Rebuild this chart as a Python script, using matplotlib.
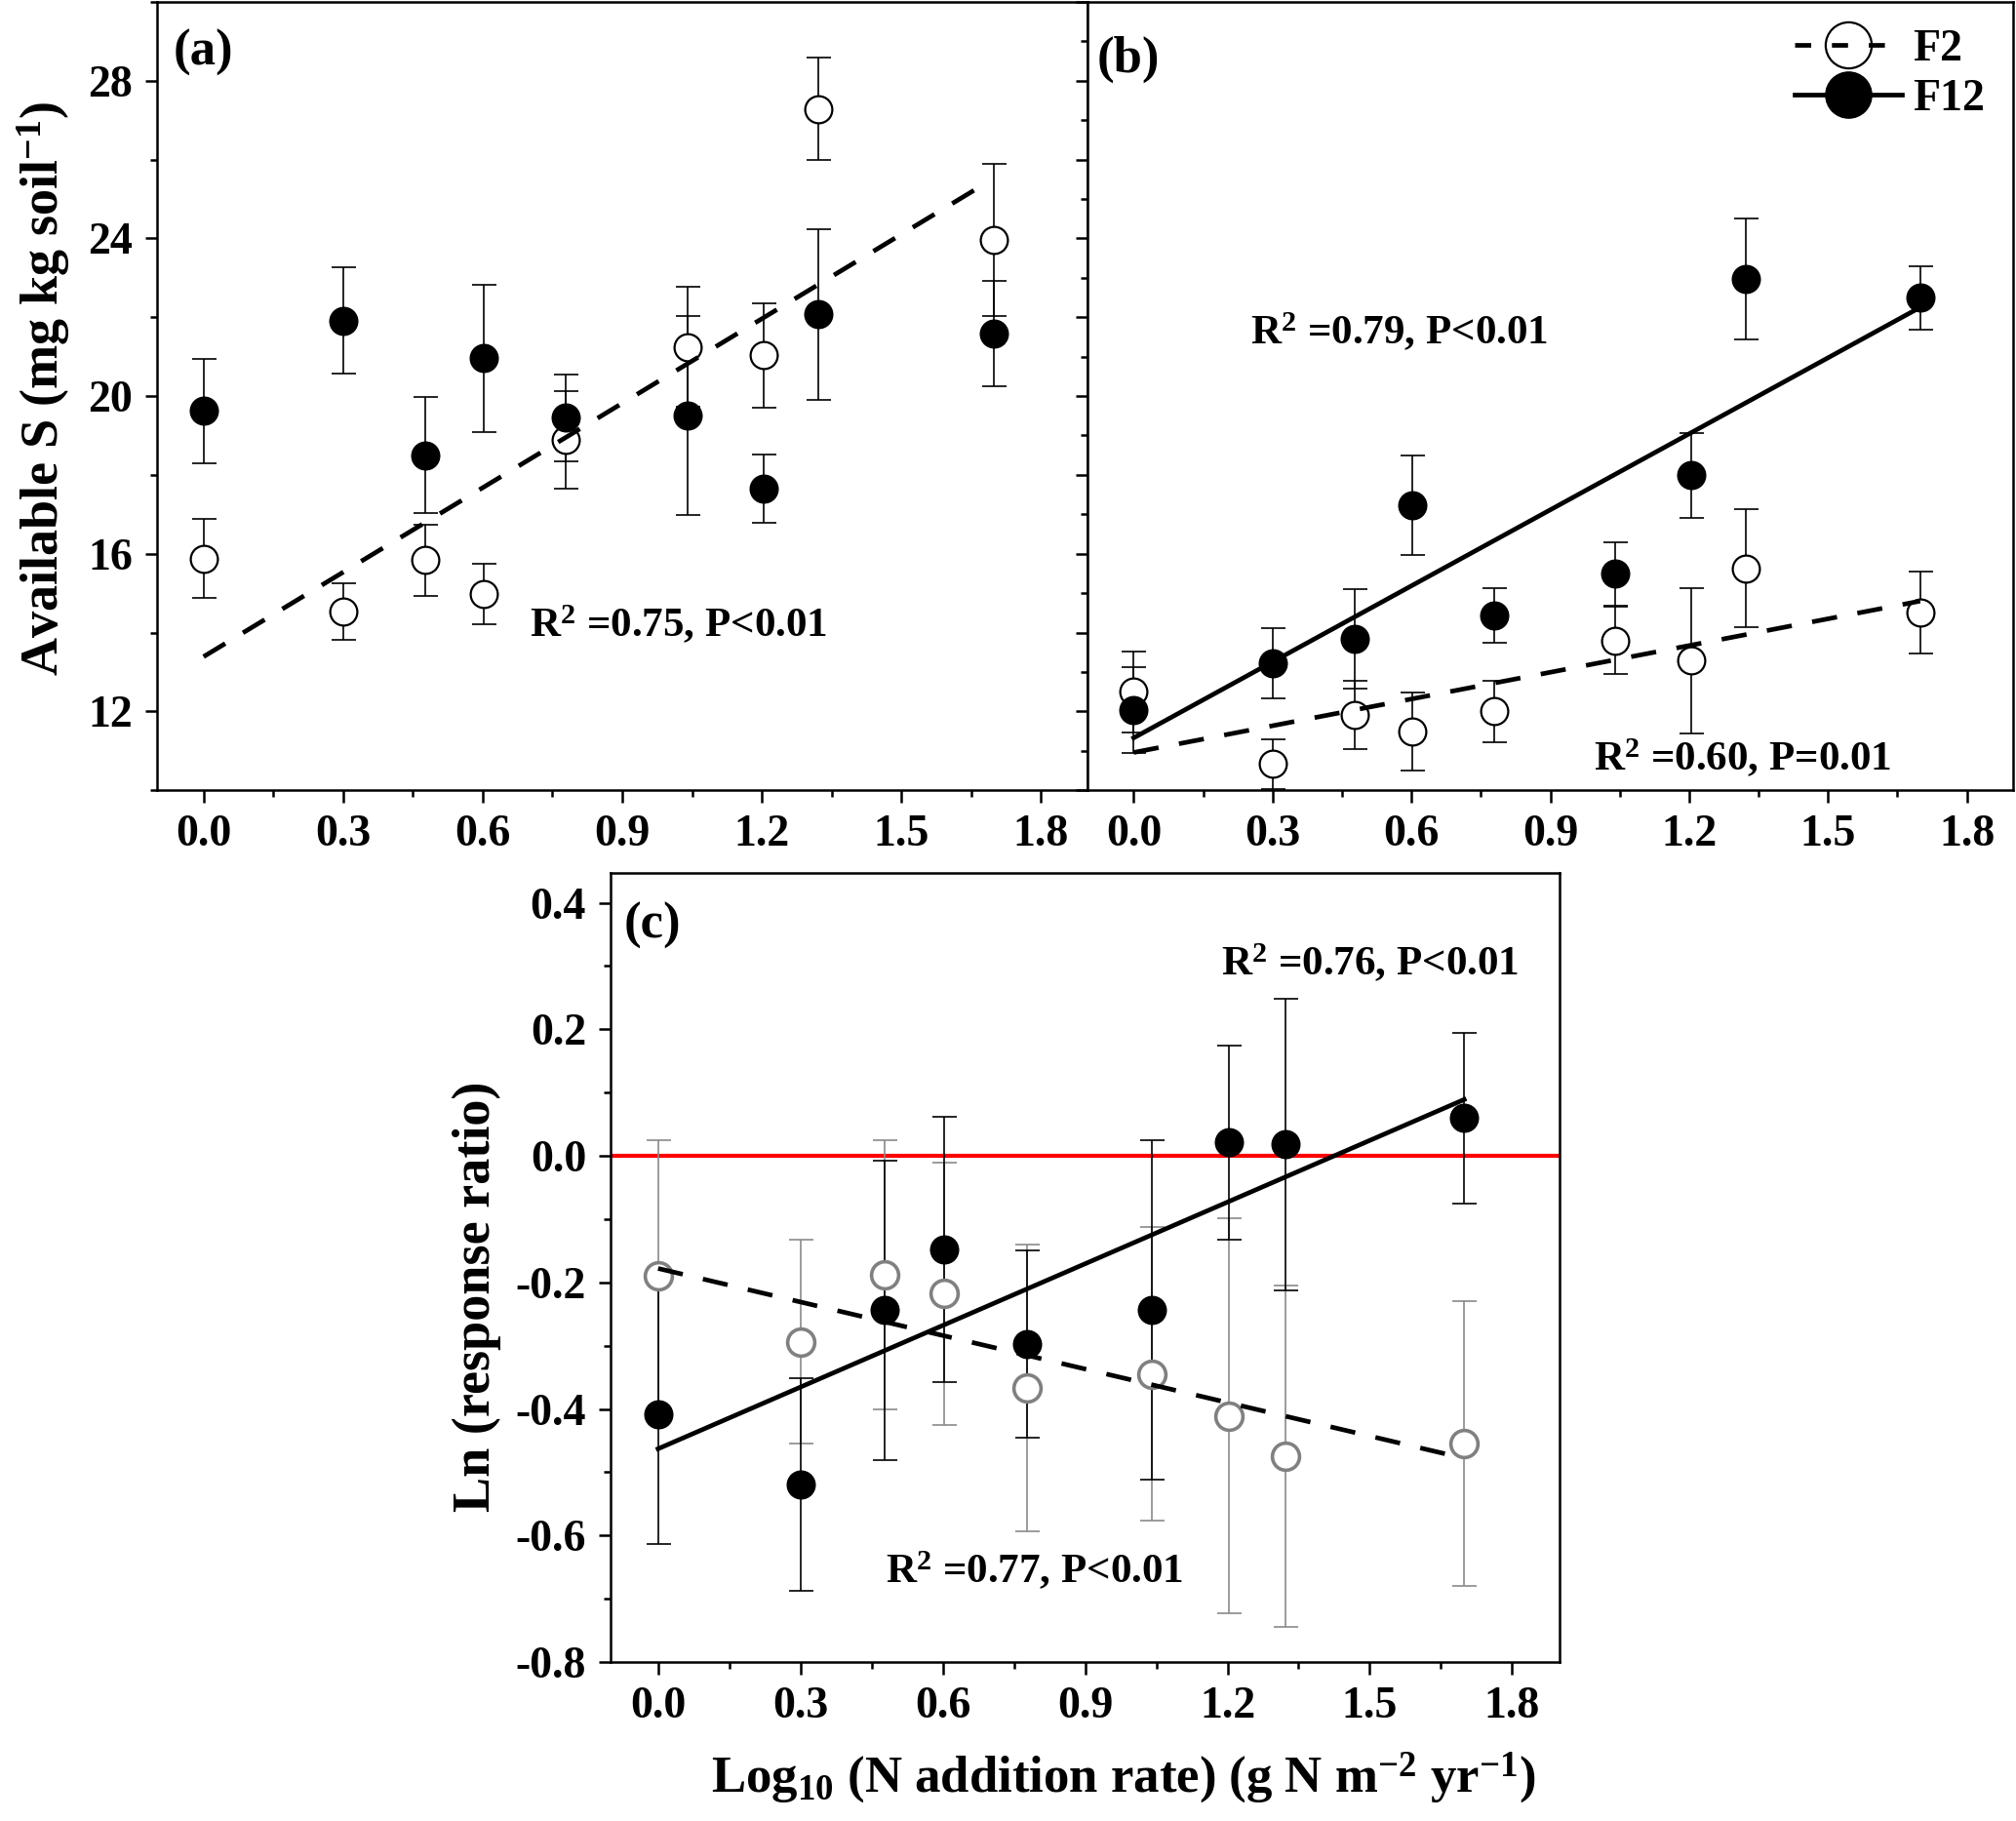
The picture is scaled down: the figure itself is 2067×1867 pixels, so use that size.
import numpy as np
import matplotlib
matplotlib.use("Agg")
import matplotlib.pyplot as plt
from matplotlib.ticker import MultipleLocator
from matplotlib.lines import Line2D

plt.rcParams['font.family'] = ['Liberation Serif', 'DejaVu Serif']
plt.rcParams['font.weight'] = 'bold'
plt.rcParams['axes.labelweight'] = 'bold'
plt.rcParams['mathtext.fontset'] = 'custom'
plt.rcParams['mathtext.rm'] = 'Liberation Serif:bold'
plt.rcParams['mathtext.it'] = 'Liberation Serif:bold'
plt.rcParams['mathtext.bf'] = 'Liberation Serif:bold'
plt.rcParams['mathtext.default'] = 'rm'

# log10 of N addition rate
logN = [0.0, 0.301, 0.477, 0.602, 0.778, 1.041, 1.204, 1.322, 1.699]

# (a) available S
a_f2 = [15.88, 14.54, 15.84, 14.98, 18.89, 21.25, 21.03, 27.28, 23.96]
a_f2_err = [1.0, 0.72, 0.9, 0.77, 1.23, 1.53, 1.32, 1.3, 1.94]
a_f12 = [19.62, 21.91, 18.50, 20.96, 19.45, 19.51, 17.65, 22.07, 21.59]
a_f12_err = [1.32, 1.35, 1.47, 1.87, 1.1, 2.52, 0.87, 2.16, 1.33]
a_fit_x = [0.0, 1.662]
a_fit_y = [13.39, 25.26]

# (b)
b_f2 = [12.50, 10.67, 11.91, 11.49, 12.0, 13.80, 13.29, 15.63, 14.50]
b_f2_err = [1.03, 0.63, 0.87, 1.0, 0.78, 0.85, 1.85, 1.5, 1.04]
b_f12 = [12.03, 13.22, 13.84, 17.24, 14.44, 15.49, 17.99, 22.97, 22.49]
b_f12_err = [1.09, 0.89, 1.26, 1.26, 0.7, 0.8, 1.08, 1.54, 0.8]
b_fit_x = [0.0, 1.699]
b_fit_f2 = [10.96, 14.80]
b_fit_f12 = [11.33, 22.25]

# (c) ln response ratio
c_f2 = [-0.190, -0.294, -0.188, -0.218, -0.367, -0.345, -0.411, -0.475, -0.455]
c_f2_err = [0.215, 0.161, 0.212, 0.207, 0.227, 0.232, 0.312, 0.27, 0.225]
c_f12 = [-0.408, -0.519, -0.244, -0.148, -0.298, -0.244, 0.021, 0.018, 0.060]
c_f12_err = [0.205, 0.168, 0.237, 0.21, 0.148, 0.268, 0.153, 0.23, 0.135]
c_fit_f2_x = [0.0, 1.665]
c_fit_f2_y = [-0.178, -0.472]
c_fit_f12_x = [0.0, 1.699]
c_fit_f12_y = [-0.463, 0.089]

FS = 33
MS = 20
DASH = (5.5, 4.5)

fig = plt.figure(figsize=(20.67, 18.67), dpi=100)
axa = fig.add_axes([0.0779, 0.566, 0.4615, 0.433])
axb = fig.add_axes([0.5394, 0.566, 0.4592, 0.433])
axc = fig.add_axes([0.3029, 0.0873, 0.4707, 0.4333])


def style(ax, ymaj, ymin):
    ax.set_xlim(-0.1, 1.9)
    ax.xaxis.set_major_locator(MultipleLocator(0.3))
    ax.xaxis.set_minor_locator(MultipleLocator(0.15))
    ax.yaxis.set_major_locator(MultipleLocator(ymaj))
    ax.yaxis.set_minor_locator(MultipleLocator(ymin))
    ax.tick_params(which='major', direction='out', length=9, width=1.8,
                   labelsize=FS, pad=9)
    ax.tick_params(which='minor', direction='out', length=5, width=1.8)
    for s in ax.spines.values():
        s.set_linewidth(1.8)


def points(ax, y, e, open_, color='black', ecolor='black'):
    ax.errorbar(logN, y, yerr=e, fmt='none', ecolor=ecolor, elinewidth=1.2,
                capsize=9, capthick=1.2, zorder=2)
    ax.plot(logN, y, 'o', ms=MS, mec=color, mew=1.6 if color == 'black' else 2.6,
            mfc='white' if open_ else color, ls='none', zorder=3)


# (a)
style(axa, 4, 2)
axa.set_ylim(10, 30)
points(axa, a_f2, a_f2_err, True)
points(axa, a_f12, a_f12_err, False)
axa.plot(a_fit_x, a_fit_y, color='black', lw=3.4, ls=(0, DASH), zorder=4)
axa.text(0.70, 14.2, r'R$^{2}$ =0.75, P<0.01', fontsize=31, va='center')
axa.text(0.017, 0.935, '(a)', transform=axa.transAxes, fontsize=38, va='center')
axa.set_ylabel(r'Available S (mg kg soil$^{-1}$)', fontsize=39)
axa.yaxis.set_label_coords(-0.122, 0.51)
axa.yaxis.label.set_va('center')

# (b)
style(axb, 2, 1)
axb.set_ylim(10, 30)
axb.tick_params(axis='y', labelleft=False)
points(axb, b_f2, b_f2_err, True)
points(axb, b_f12, b_f12_err, False)
axb.plot(b_fit_x, b_fit_f2, color='black', lw=3.4, ls=(0, DASH), zorder=4)
axb.plot(b_fit_x, b_fit_f12, color='black', lw=3.4, zorder=4)
axb.text(0.253, 21.63, r'R$^{2}$ =0.79, P<0.01', fontsize=31, va='center')
axb.text(0.994, 10.82, r'R$^{2}$ =0.60, P=0.01', fontsize=31, va='center')
axb.text(0.010, 0.927, '(b)', transform=axb.transAxes, fontsize=38, va='center')
handles = [
    Line2D([], [], color='black', lw=3.4, ls=(0, (3.5, 4.5)), marker='o', ms=MS,
           mfc='none', mec='black', mew=1.6),
    Line2D([], [], color='black', lw=3.4, marker='o', ms=MS,
           mfc='black', mec='black'),
]
axb.legend(handles, ['F2', 'F12'], loc='upper left', bbox_to_anchor=(0.764, 0.965),
           frameon=False, fontsize=FS, markerscale=1.7, handlelength=2.4,
           handletextpad=0.25, labelspacing=0.2, borderpad=0, borderaxespad=0)

# (c)
style(axc, 0.2, 0.1)
axc.set_ylim(-0.8, 0.447)
axc.axhline(0, color='#ff0000', lw=3.0, zorder=1)
points(axc, c_f2, c_f2_err, True, color='#808080', ecolor='#8a8a8a')
points(axc, c_f12, c_f12_err, False)
axc.plot(c_fit_f2_x, c_fit_f2_y, color='black', lw=3.4, ls=(0, DASH), zorder=4)
axc.plot(c_fit_f12_x, c_fit_f12_y, color='black', lw=3.4, zorder=4)
axc.text(1.186, 0.305, r'R$^{2}$ =0.76, P<0.01', fontsize=31, va='center')
axc.text(0.479, -0.656, r'R$^{2}$ =0.77, P<0.01', fontsize=31, va='center')
axc.text(0.014, 0.933, '(c)', transform=axc.transAxes, fontsize=38, va='center')
axc.set_yticks([0.4, 0.2, 0.0, -0.2, -0.4, -0.6, -0.8])
axc.set_yticklabels(['0.4', '0.2', '0.0', '-0.2', '-0.4', '-0.6', '-0.8'])
axc.set_ylabel('Ln (response ratio)', fontsize=39)
axc.yaxis.set_label_coords(-0.141, 0.463)
axc.yaxis.label.set_va('center')
axc.set_xlabel(r'Log$_{10}$ (N addition rate) (g N m$^{-2}$ yr$^{-1}$)', fontsize=38)
axc.xaxis.set_label_coords(0.54, -0.147)
axc.xaxis.label.set_va('center')

fig.savefig('out.png', dpi=100)
